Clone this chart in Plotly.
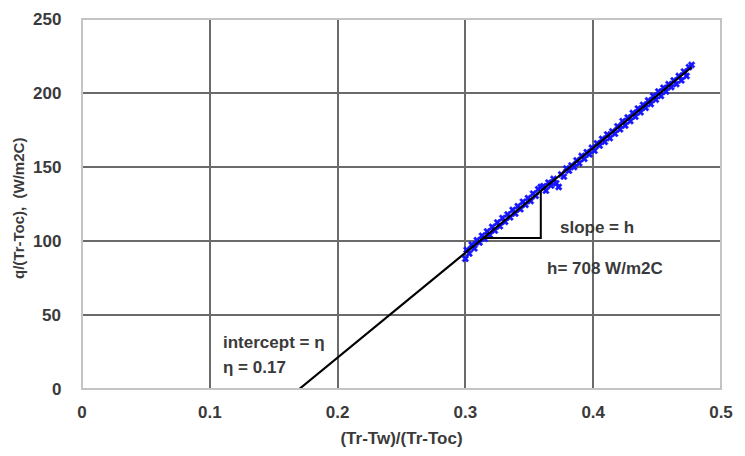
import plotly.graph_objects as go

# measured points: x = (Tr-Tw)/(Tr-Toc), y = q/(Tr-Toc)
data_x = [0.300, 0.301, 0.303, 0.305, 0.307, 0.309, 0.311, 0.313, 0.315, 0.317,
          0.319, 0.321, 0.323, 0.325, 0.327, 0.329, 0.331, 0.333, 0.335, 0.337,
          0.339, 0.341, 0.343, 0.345, 0.347, 0.349, 0.351, 0.353, 0.355, 0.357,
          0.359, 0.361, 0.363, 0.365, 0.367, 0.369, 0.371, 0.373, 0.375, 0.377,
          0.379, 0.381, 0.383, 0.385, 0.387, 0.389, 0.391, 0.393, 0.395, 0.397,
          0.399, 0.401, 0.403, 0.405, 0.407, 0.409, 0.411, 0.413, 0.415, 0.417,
          0.419, 0.421, 0.423, 0.425, 0.427, 0.429, 0.431, 0.433, 0.435, 0.437,
          0.439, 0.441, 0.443, 0.445, 0.447, 0.449, 0.451, 0.453, 0.455, 0.457,
          0.459, 0.461, 0.463, 0.465, 0.467, 0.469, 0.471, 0.473, 0.475, 0.477]
data_y = [88.0, 94.0, 91.5, 97.5, 95.0, 100.5, 99.0, 103.5, 101.5, 106.5,
          104.0, 109.5, 107.0, 112.5, 110.0, 115.5, 113.0, 118.0, 116.0, 121.0,
          118.5, 123.5, 121.5, 126.5, 124.5, 129.0, 127.0, 132.0, 130.5, 135.0,
          136.5, 137.0, 134.0, 139.5, 137.5, 142.0, 139.0, 136.5, 145.0, 143.5,
          149.0, 147.5, 151.0, 150.0, 154.5, 152.5, 157.5, 155.5, 160.0, 158.5,
          163.0, 161.0, 166.0, 164.5, 169.0, 167.0, 172.0, 169.5, 174.0, 172.5,
          177.5, 175.5, 181.0, 178.0, 183.5, 181.0, 186.5, 184.0, 189.5, 187.0,
          192.0, 190.0, 195.0, 192.5, 198.0, 195.5, 201.0, 198.0, 203.5, 201.0,
          206.0, 204.0, 208.5, 206.0, 211.5, 208.5, 214.5, 211.5, 217.5, 219.0]

# linear fit line (intercept eta = 0.17, slope h = 708)
fit_x = [0.17, 0.477]
fit_y = [0.0, 217.4]

# slope triangle
tri_x = [0.314, 0.359, 0.359]
tri_y = [102.0, 102.0, 134.5]

x_ticks = [0, 0.1, 0.2, 0.3, 0.4, 0.5]
x_tick_labels = ["0", "0.1", "0.2", "0.3", "0.4", "0.5"]
y_ticks = [0, 50, 100, 150, 200, 250]
y_tick_labels = ["0", "50", "100", "150", "200", "250"]

FONT = "Liberation Sans, Arial, sans-serif"
TXT = "#3a3a3a"
BLUE = "#1414ff"

fig = go.Figure()
fig.add_trace(go.Scatter(x=data_x, y=data_y, mode="markers",
                         marker=dict(symbol="x", size=6, color=BLUE,
                                     line=dict(width=0.5, color=BLUE)),
                         showlegend=False))
fig.add_trace(go.Scatter(x=tri_x, y=tri_y, mode="lines",
                         line=dict(color="black", width=2), showlegend=False))
fig.add_trace(go.Scatter(x=fit_x, y=fit_y, mode="lines",
                         line=dict(color="black", width=2.2), showlegend=False))

fig.update_layout(
    width=745, height=456,
    margin=dict(l=82, r=15, t=19, b=66),
    plot_bgcolor="white", paper_bgcolor="white",
    font=dict(family=FONT, size=16, color=TXT, weight="bold"),
    xaxis=dict(range=[0, 0.5], tickvals=x_ticks, ticktext=x_tick_labels,
               showgrid=True, gridcolor="#6a6a6a", gridwidth=1.5,
               zeroline=False, showline=False,
               ticks="outside", ticklen=8, tickcolor="rgba(0,0,0,0)",
               tickfont=dict(family=FONT, size=17, color=TXT, weight="bold"),
               title=dict(text="(Tr-Tw)/(Tr-Toc)", standoff=10,
                          font=dict(family=FONT, size=17, color=TXT, weight="bold"))),
    yaxis=dict(range=[0, 250], tickvals=y_ticks, showticklabels=False,
               showgrid=True, gridcolor="#6a6a6a", gridwidth=1.5,
               zeroline=False, showline=False, ticks=""),
)

# y tick labels placed with a wider gap from the axis
for v, lab in zip(y_ticks, y_tick_labels):
    fig.add_annotation(xref="paper", yref="y", x=0, y=v, xshift=-19,
                       xanchor="right", yanchor="middle", text=lab,
                       showarrow=False,
                       font=dict(family=FONT, size=17, color=TXT, weight="bold"))

# light plot border
fig.add_shape(type="rect", xref="paper", yref="paper", x0=0, y0=0, x1=1, y1=1,
              line=dict(color="#c4c4c4", width=2), layer="above")

fig.add_annotation(xref="paper", yref="paper", x=0, y=0.5, xshift=-64,
                   yshift=-5, xanchor="center", yanchor="middle",
                   text="q/(Tr-Toc),  (W/m2C)", textangle=-90,
                   showarrow=False,
                   font=dict(family=FONT, size=15, color=TXT, weight="bold"))

notes = [
    (0.3727, 109.2, "slope = h"),
    (0.3624, 81.5, "h= 708 W/m2C"),
    (0.1088, 31.7, "intercept = η"),
    (0.1088, 14.2, "η = 0.17"),
]
for nx, ny, t in notes:
    fig.add_annotation(x=nx, y=ny, text=t, showarrow=False,
                       xanchor="left", yanchor="middle",
                       font=dict(family=FONT, size=17, color=TXT, weight="bold"))

fig.write_html("out.html")
